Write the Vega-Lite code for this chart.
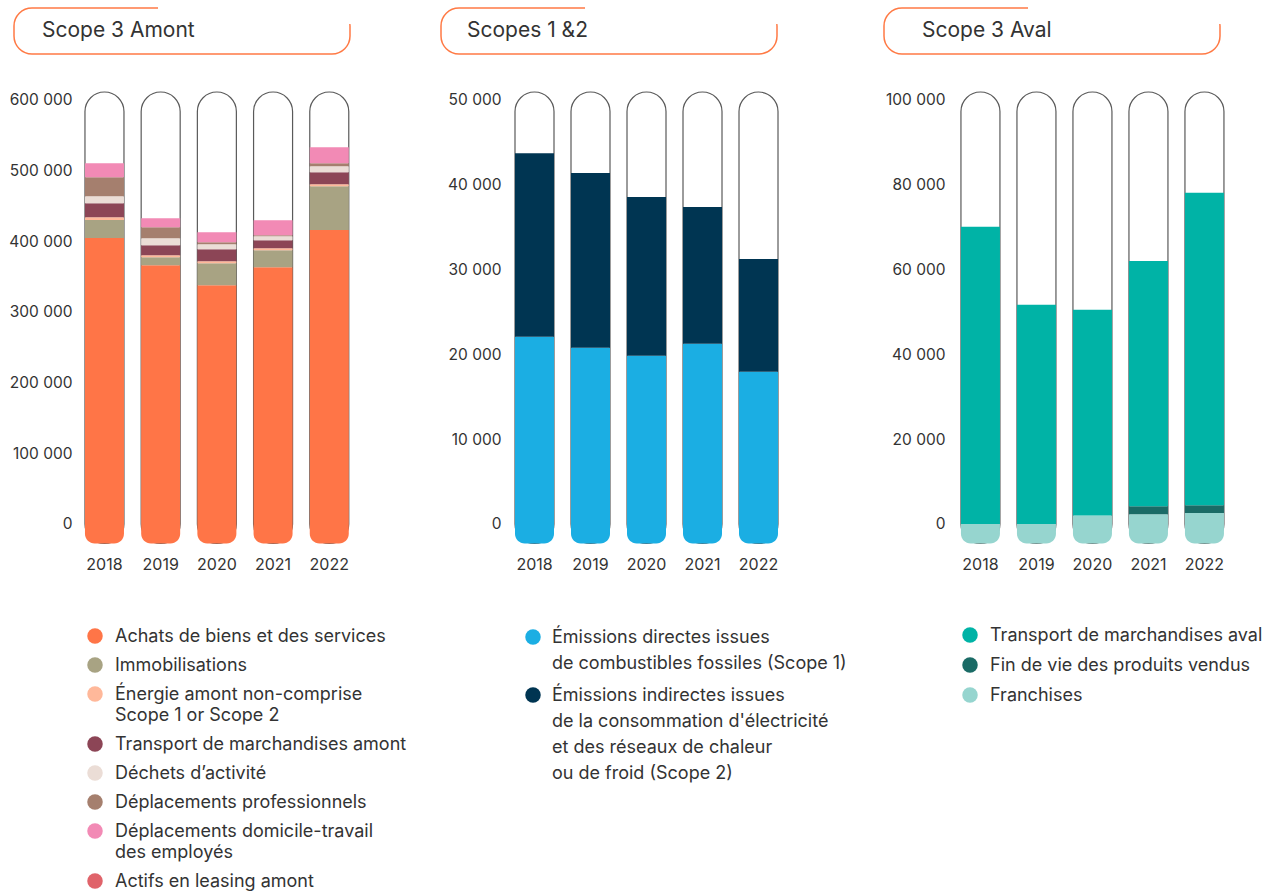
{
  "$schema": "https://vega.github.io/schema/vega-lite/v6.json",
  "padding": {"left": 8, "top": 5, "right": 0, "bottom": 0},
  "background": "white",
  "config": {
    "font": "Inter",
    "view": {"stroke": null},
    "axis": {"labelColor": "#333333", "labelFontSize": 16, "labelFont": "Inter"},
    "legend": {"labelFont": "Inter"}
  },
  "datasets": {
    "amont": [
      {"year": "2018", "cat": "Achats de biens et des services", "v": 404700},
      {"year": "2018", "cat": "Immobilisations", "v": 25500},
      {"year": "2018", "cat": "Énergie amont non-comprise Scope 1 or Scope 2", "v": 3800},
      {"year": "2018", "cat": "Transport de marchandises amont", "v": 19800},
      {"year": "2018", "cat": "Déchets d’activité", "v": 9900},
      {"year": "2018", "cat": "Déplacements professionnels", "v": 26900},
      {"year": "2018", "cat": "Déplacements domicile-travail des employés", "v": 19800},
      {"year": "2018", "cat": "Actifs en leasing amont", "v": 0},
      {"year": "2019", "cat": "Achats de biens et des services", "v": 366100},
      {"year": "2019", "cat": "Immobilisations", "v": 11300},
      {"year": "2019", "cat": "Énergie amont non-comprise Scope 1 or Scope 2", "v": 2800},
      {"year": "2019", "cat": "Transport de marchandises amont", "v": 14100},
      {"year": "2019", "cat": "Déchets d’activité", "v": 10000},
      {"year": "2019", "cat": "Déplacements professionnels", "v": 15500},
      {"year": "2019", "cat": "Déplacements domicile-travail des employés", "v": 12800},
      {"year": "2019", "cat": "Actifs en leasing amont", "v": 0},
      {"year": "2020", "cat": "Achats de biens et des services", "v": 337800},
      {"year": "2020", "cat": "Immobilisations", "v": 31100},
      {"year": "2020", "cat": "Énergie amont non-comprise Scope 1 or Scope 2", "v": 2800},
      {"year": "2020", "cat": "Transport de marchandises amont", "v": 17000},
      {"year": "2020", "cat": "Déchets d’activité", "v": 7100},
      {"year": "2020", "cat": "Déplacements professionnels", "v": 2800},
      {"year": "2020", "cat": "Déplacements domicile-travail des employés", "v": 14200},
      {"year": "2020", "cat": "Actifs en leasing amont", "v": 0},
      {"year": "2021", "cat": "Achats de biens et des services", "v": 363300},
      {"year": "2021", "cat": "Immobilisations", "v": 24000},
      {"year": "2021", "cat": "Énergie amont non-comprise Scope 1 or Scope 2", "v": 2800},
      {"year": "2021", "cat": "Transport de marchandises amont", "v": 11400},
      {"year": "2021", "cat": "Déchets d’activité", "v": 5600},
      {"year": "2021", "cat": "Déplacements professionnels", "v": 1400},
      {"year": "2021", "cat": "Déplacements domicile-travail des employés", "v": 21200},
      {"year": "2021", "cat": "Actifs en leasing amont", "v": 0},
      {"year": "2022", "cat": "Achats de biens et des services", "v": 416100},
      {"year": "2022", "cat": "Immobilisations", "v": 61800},
      {"year": "2022", "cat": "Énergie amont non-comprise Scope 1 or Scope 2", "v": 2800},
      {"year": "2022", "cat": "Transport de marchandises amont", "v": 17000},
      {"year": "2022", "cat": "Déchets d’activité", "v": 8500},
      {"year": "2022", "cat": "Déplacements professionnels", "v": 4200},
      {"year": "2022", "cat": "Déplacements domicile-travail des employés", "v": 22700},
      {"year": "2022", "cat": "Actifs en leasing amont", "v": 0}
    ],
    "s12": [
      {"year": "2018", "cat": "Émissions directes issues de combustibles fossiles (Scope 1)", "v": 22080},
      {"year": "2018", "cat": "Émissions indirectes issues de la consommation d'électricité et des réseaux de chaleur ou de froid (Scope 2)", "v": 21650},
      {"year": "2019", "cat": "Émissions directes issues de combustibles fossiles (Scope 1)", "v": 20790},
      {"year": "2019", "cat": "Émissions indirectes issues de la consommation d'électricité et des réseaux de chaleur ou de froid (Scope 2)", "v": 20590},
      {"year": "2020", "cat": "Émissions directes issues de combustibles fossiles (Scope 1)", "v": 19850},
      {"year": "2020", "cat": "Émissions indirectes issues de la consommation d'électricité et des réseaux de chaleur ou de froid (Scope 2)", "v": 18700},
      {"year": "2021", "cat": "Émissions directes issues de combustibles fossiles (Scope 1)", "v": 21260},
      {"year": "2021", "cat": "Émissions indirectes issues de la consommation d'électricité et des réseaux de chaleur ou de froid (Scope 2)", "v": 16120},
      {"year": "2022", "cat": "Émissions directes issues de combustibles fossiles (Scope 1)", "v": 17960},
      {"year": "2022", "cat": "Émissions indirectes issues de la consommation d'électricité et des réseaux de chaleur ou de froid (Scope 2)", "v": 13300}
    ],
    "aval": [
      {"year": "2018", "cat": "Franchises", "v": 0},
      {"year": "2018", "cat": "Fin de vie des produits vendus", "v": 0},
      {"year": "2018", "cat": "Transport de marchandises aval", "v": 70100},
      {"year": "2019", "cat": "Franchises", "v": 0},
      {"year": "2019", "cat": "Fin de vie des produits vendus", "v": 0},
      {"year": "2019", "cat": "Transport de marchandises aval", "v": 51700},
      {"year": "2020", "cat": "Franchises", "v": 2000},
      {"year": "2020", "cat": "Fin de vie des produits vendus", "v": 0},
      {"year": "2020", "cat": "Transport de marchandises aval", "v": 48500},
      {"year": "2021", "cat": "Franchises", "v": 2300},
      {"year": "2021", "cat": "Fin de vie des produits vendus", "v": 1900},
      {"year": "2021", "cat": "Transport de marchandises aval", "v": 57800},
      {"year": "2022", "cat": "Franchises", "v": 2600},
      {"year": "2022", "cat": "Fin de vie des produits vendus", "v": 1800},
      {"year": "2022", "cat": "Transport de marchandises aval", "v": 73700}
    ]
  },
  "columns": 3,
  "align": "each",
  "bounds": "flush",
  "spacing": {"row": 38, "column": 91},
  "resolve": {"scale": {"x": "independent", "y": "independent", "color": "independent"}, "legend": {"color": "independent"}},
  "concat": [
    {
      "width": 336, "height": 46,
      "view": {"stroke": "#FF7A45", "strokeWidth": 1.5, "cornerRadius": 18},
      "data": {"values": [{"t": "Scope 3 Amont"}]},
      "encoding": {
        "x": {"datum": 0, "type": "quantitative", "scale": {"domain": [0, 1]}, "axis": null},
        "y": {"datum": 0, "type": "quantitative", "scale": {"domain": [-1, 1]}, "axis": null}
      },
      "layer": [
        {"mark": {"type": "rect", "fill": "white"}, "encoding": {"x": {"datum": 0.4286}, "x2": {"datum": 1.02}, "y": {"datum": 1.06}, "y2": {"datum": 0.304}}},
        {"mark": {"type": "text", "align": "left", "baseline": "middle", "fontSize": 21, "color": "#333333", "dx": 28}, "encoding": {"text": {"field": "t"}}}
      ]
    },
    {
      "width": 336, "height": 46,
      "view": {"stroke": "#FF7A45", "strokeWidth": 1.5, "cornerRadius": 18},
      "data": {"values": [{"t": "Scopes 1 &2"}]},
      "encoding": {
        "x": {"datum": 0, "type": "quantitative", "scale": {"domain": [0, 1]}, "axis": null},
        "y": {"datum": 0, "type": "quantitative", "scale": {"domain": [-1, 1]}, "axis": null}
      },
      "layer": [
        {"mark": {"type": "rect", "fill": "white"}, "encoding": {"x": {"datum": 0.4286}, "x2": {"datum": 1.02}, "y": {"datum": 1.06}, "y2": {"datum": 0.304}}},
        {"mark": {"type": "text", "align": "left", "baseline": "middle", "fontSize": 21, "color": "#333333", "dx": 26}, "encoding": {"text": {"field": "t"}}}
      ]
    },
    {
      "width": 336, "height": 46,
      "view": {"stroke": "#FF7A45", "strokeWidth": 1.5, "cornerRadius": 18},
      "data": {"values": [{"t": "Scope 3 Aval"}]},
      "encoding": {
        "x": {"datum": 0, "type": "quantitative", "scale": {"domain": [0, 1]}, "axis": null},
        "y": {"datum": 0, "type": "quantitative", "scale": {"domain": [-1, 1]}, "axis": null}
      },
      "layer": [
        {"mark": {"type": "rect", "fill": "white"}, "encoding": {"x": {"datum": 0.4286}, "x2": {"datum": 1.02}, "y": {"datum": 1.06}, "y2": {"datum": 0.304}}},
        {"mark": {"type": "text", "align": "left", "baseline": "middle", "fontSize": 21, "color": "#333333", "dx": 38}, "encoding": {"text": {"field": "t"}}}
      ]
    },
    {
      "width": 336, "height": 451.5,
      "data": {"name": "amont"},
      "transform": [{"calculate": "indexof(['Achats de biens et des services','Immobilisations','Énergie amont non-comprise Scope 1 or Scope 2','Transport de marchandises amont','Déchets d’activité','Déplacements professionnels','Déplacements domicile-travail des employés','Actifs en leasing amont'], datum.cat)", "as": "o"}],
      "encoding": {
        "x": {"field": "year", "type": "nominal", "scale": {"paddingInner": 0.306, "paddingOuter": 0.6423, "align": 0.983},
              "axis": {"title": null, "domain": false, "ticks": false, "labelAngle": 0, "labelPadding": 13}}
      },
      "layer": [
        {
          "transform": [{"filter": "datum.o == 0"}],
          "mark": {"type": "bar", "cornerRadius": 19.5, "fill": "white", "stroke": "#5a5a5a", "strokeWidth": 1.2},
          "encoding": {
            "y": {"datum": -27600, "type": "quantitative", "scale": {"domain": [-27600, 611300], "nice": false, "zero": false},
                  "axis": {"title": null, "domain": false, "ticks": false, "grid": false, "values": [0, 100000, 200000, 300000, 400000, 500000, 600000], "labelFontSize": 15.5, "labelPadding": 4, "offset": -62, "labelExpr": "replace(format(datum.value, ','), regexp(',', 'g'), ' ')"}},
            "y2": {"datum": 611300}
          }
        },
        {
          "transform": [{"filter": "datum.o == 0"}],
          "mark": {"type": "bar", "cornerRadiusBottomLeft": 19.5, "cornerRadiusBottomRight": 19.5},
          "encoding": {
            "y": {"datum": -27600, "type": "quantitative"},
            "y2": {"datum": 0},
            "color": {"datum": "Achats de biens et des services", "type": "nominal"}
          }
        },
        {
          "mark": {"type": "bar"},
          "encoding": {
            "y": {"field": "v", "type": "quantitative", "stack": "zero"},
            "order": {"field": "o", "type": "quantitative"},
            "color": {
              "field": "cat", "type": "nominal",
              "scale": {
                "domain": ["Achats de biens et des services", "Immobilisations", "Énergie amont non-comprise Scope 1 or Scope 2", "Transport de marchandises amont", "Déchets d’activité", "Déplacements professionnels", "Déplacements domicile-travail des employés", "Actifs en leasing amont"],
                "range": ["#FF7547", "#A8A383", "#FFB89A", "#8C4556", "#EBDDD6", "#A57F6E", "#F28AB5", "#E0636A"]
              },
              "legend": {
                "orient": "none", "legendX": 72, "legendY": 535, "title": null, "padding": 0,
                "symbolType": "circle", "symbolSize": 240, "symbolStrokeWidth": 0, "symbolOpacity": 1,
                "labelFontSize": 18, "labelColor": "#333333", "labelOffset": 11, "rowPadding": 10, "labelLimit": 500,
                "labelBaseline": "alphabetic",
                "labelExpr": "datum.label == 'Énergie amont non-comprise Scope 1 or Scope 2' ? ['Énergie amont non-comprise', 'Scope 1 or Scope 2'] : datum.label == 'Déplacements domicile-travail des employés' ? ['Déplacements domicile-travail', 'des employés'] : datum.label",
                "encoding": {"labels": {"dy": {"value": 6}, "lineHeight": {"value": 21}}}
              }
            }
          }
        }
      ]
    },
    {
      "width": 352, "height": 451.5,
      "data": {"name": "s12"},
      "transform": [{"calculate": "indexof(['Émissions directes issues de combustibles fossiles (Scope 1)', \"Émissions indirectes issues de la consommation d'électricité et des réseaux de chaleur ou de froid (Scope 2)\"], datum.cat)", "as": "o"}],
      "encoding": {
        "x": {"field": "year", "type": "nominal", "scale": {"paddingInner": 0.3036, "paddingOuter": 0.7946, "align": 0.8315},
              "axis": {"title": null, "domain": false, "ticks": false, "labelAngle": 0, "labelPadding": 13}}
      },
      "layer": [
        {
          "transform": [{"filter": "datum.o == 0"}],
          "mark": {"type": "bar", "cornerRadius": 19.5, "fill": "white", "stroke": "#5a5a5a", "strokeWidth": 1.2},
          "encoding": {
            "y": {"datum": -2300, "type": "quantitative", "scale": {"domain": [-2300, 50940], "nice": false, "zero": false},
                  "axis": {"title": null, "domain": false, "ticks": false, "grid": false, "values": [0, 10000, 20000, 30000, 40000, 50000], "labelFontSize": 15.5, "labelPadding": 4, "offset": -64, "labelExpr": "replace(format(datum.value, ','), regexp(',', 'g'), ' ')"}},
            "y2": {"datum": 50940}
          }
        },
        {
          "transform": [{"filter": "datum.o == 0"}],
          "mark": {"type": "bar", "cornerRadiusBottomLeft": 19.5, "cornerRadiusBottomRight": 19.5},
          "encoding": {
            "y": {"datum": -2300, "type": "quantitative"},
            "y2": {"datum": 0},
            "color": {"datum": "Émissions directes issues de combustibles fossiles (Scope 1)", "type": "nominal"}
          }
        },
        {
          "mark": {"type": "bar"},
          "encoding": {
            "y": {"field": "v", "type": "quantitative", "stack": "zero"},
            "order": {"field": "o", "type": "quantitative"},
            "color": {
              "field": "cat", "type": "nominal",
              "scale": {
                "domain": ["Émissions directes issues de combustibles fossiles (Scope 1)", "Émissions indirectes issues de la consommation d'électricité et des réseaux de chaleur ou de froid (Scope 2)"],
                "range": ["#1BAEE3", "#003552"]
              },
              "legend": {
                "orient": "none", "legendX": 83, "legendY": 536, "title": null, "padding": 0,
                "symbolType": "circle", "symbolSize": 240, "symbolStrokeWidth": 0, "symbolOpacity": 1,
                "labelFontSize": 18, "labelColor": "#333333", "labelOffset": 10, "rowPadding": 13, "labelLimit": 500,
                "labelBaseline": "alphabetic",
                "labelExpr": "indexof(datum.label, 'Émissions directes') == 0 ? ['Émissions directes issues', 'de combustibles fossiles (Scope 1)'] : ['Émissions indirectes issues', \"de la consommation d'électricité\", 'et des réseaux de chaleur', 'ou de froid (Scope 2)']",
                "encoding": {"labels": {"dy": {"value": 6}, "lineHeight": {"value": 26}}}
              }
            }
          }
        }
      ]
    },
    {
      "width": 344, "height": 451.5,
      "data": {"name": "aval"},
      "transform": [{"calculate": "indexof(['Franchises', 'Fin de vie des produits vendus', 'Transport de marchandises aval'], datum.cat)", "as": "o"}],
      "encoding": {
        "x": {"field": "year", "type": "nominal", "scale": {"paddingInner": 0.3036, "paddingOuter": 0.7232, "align": 0.95},
              "axis": {"title": null, "domain": false, "ticks": false, "labelAngle": 0, "labelPadding": 13}}
      },
      "layer": [
        {
          "transform": [{"filter": "datum.o == 0"}],
          "mark": {"type": "bar", "cornerRadius": 19.5, "fill": "white", "stroke": "#5a5a5a", "strokeWidth": 1.2},
          "encoding": {
            "y": {"datum": -4600, "type": "quantitative", "scale": {"domain": [-4600, 101880], "nice": false, "zero": false},
                  "axis": {"title": null, "domain": false, "ticks": false, "grid": false, "values": [0, 20000, 40000, 60000, 80000, 100000], "labelFontSize": 15.5, "labelPadding": 4, "offset": -65, "labelExpr": "replace(format(datum.value, ','), regexp(',', 'g'), ' ')"}},
            "y2": {"datum": 101880}
          }
        },
        {
          "transform": [{"filter": "datum.o == 0"}],
          "mark": {"type": "bar", "cornerRadiusBottomLeft": 19.5, "cornerRadiusBottomRight": 19.5},
          "encoding": {
            "y": {"datum": -4600, "type": "quantitative"},
            "y2": {"datum": 0},
            "color": {"datum": "Franchises", "type": "nominal"}
          }
        },
        {
          "mark": {"type": "bar"},
          "encoding": {
            "y": {"field": "v", "type": "quantitative", "stack": "zero"},
            "order": {"field": "o", "type": "quantitative"},
            "color": {
              "field": "cat", "type": "nominal",
              "scale": {
                "domain": ["Transport de marchandises aval", "Fin de vie des produits vendus", "Franchises"],
                "range": ["#00B3A6", "#1A6B66", "#96D5CF"]
              },
              "legend": {
                "orient": "none", "legendX": 77, "legendY": 534, "title": null, "padding": 0,
                "symbolType": "circle", "symbolSize": 240, "symbolStrokeWidth": 0, "symbolOpacity": 1,
                "labelFontSize": 18, "labelColor": "#333333", "labelOffset": 11, "rowPadding": 11, "labelLimit": 500,
                "labelBaseline": "alphabetic",
                "encoding": {"labels": {"dy": {"value": 6}}}
              }
            }
          }
        }
      ]
    }
  ]
}
